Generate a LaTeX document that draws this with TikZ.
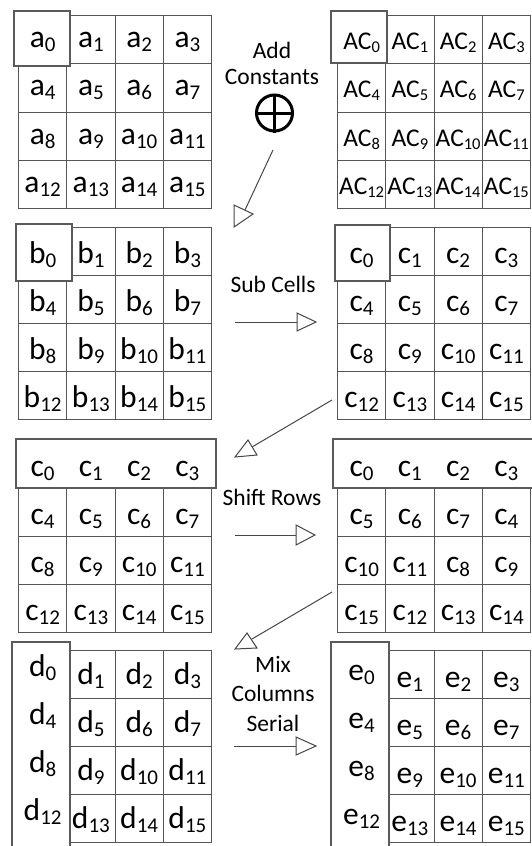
\documentclass[tikz,border=0pt]{standalone}
\usepackage{fontspec}
\setmainfont{Carlito}
\usetikzlibrary{calc}
\definecolor{gridgray}{RGB}{85,85,85}
\definecolor{boxgray}{RGB}{90,90,90}
\definecolor{arrowgray}{RGB}{70,70,70}
\newcommand{\cellsub}[1]{\raisebox{-4pt}{\fontsize{21}{21}\selectfont #1}}
\newcommand{\acsub}[1]{\raisebox{-3pt}{\fontsize{16.5}{16.5}\selectfont #1}}
\newcommand{\bigtxt}[2]{{\fontsize{31.5}{31.5}\selectfont #1\cellsub{#2}}}
\newcommand{\actxt}[1]{{\fontsize{25.5}{25.5}\selectfont AC\acsub{#1}}}
\newcommand{\mkgrid}[5]{%
  \foreach \r in {0,...,3}{\foreach \c in {0,...,3}{%
    \pgfmathtruncatemacro{\k}{4*\r+\c}%
    \node[gridcell, minimum width=#4pt, minimum height=#5pt] (#1-\k) at ({#2+\c*#4},{#3+\r*#5}) {};}}}
\begin{document}
\begin{tikzpicture}[x=1pt,y=-1pt,
  gridcell/.style={draw=gridgray, line width=1pt, inner sep=0pt, anchor=north west},
  hlbox/.style={draw=boxgray, line width=1.2pt, fill=white, inner sep=0pt},
  ctext/.style={inner sep=0pt, anchor=base},
  lbl/.style={inner sep=0pt, font=\fontsize{23.5}{26}\selectfont, align=center},
  conn/.style={draw=arrowgray, line width=1pt},
  tri/.style={draw=arrowgray, line width=1pt, fill=white, line join=miter},
]
\useasboundingbox (0,0) rectangle (532,846);

% grids
\mkgrid{a}{18}{15}{48.25}{48.25}
\mkgrid{ac}{337}{15}{48.25}{48.25}
\mkgrid{b}{18}{227}{48.25}{48}
\mkgrid{c}{337}{227}{48.25}{48}
\mkgrid{s}{18}{440}{48.25}{48}
\mkgrid{t}{337}{440}{48.25}{48}
\mkgrid{d}{18}{650}{48.25}{48}
\mkgrid{e}{337}{650}{48.25}{48}

% highlight boxes
\node[hlbox, minimum width=56pt, minimum height=55pt] (a-hl) at (42,38.5) {};
\node[hlbox, minimum width=56pt, minimum height=52pt] (ac-hl) at (359,37) {};
\node[hlbox, minimum width=56pt, minimum height=57pt] (b-hl) at (44,252.5) {};
\node[hlbox, minimum width=55pt, minimum height=56pt] (c-hl) at (362.5,253) {};
\node[hlbox, minimum width=200pt, minimum height=49pt] (s-hl) at (116,463.5) {};
\node[hlbox, minimum width=207pt, minimum height=49pt] (t-hl) at (436.5,463.5) {};
\node[hlbox, minimum width=58pt, minimum height=208pt] (d-hl) at (41,746) {};
\node[hlbox, minimum width=58pt, minimum height=208pt] (e-hl) at (360,746) {};

% cell texts
\foreach \k in {0,...,15}{
  \node[ctext] (a-\k-t) at ($(a-\k.center)+(0,8)$) {\bigtxt{a}{\k}};
  \node[ctext] (ac-\k-t) at ($(ac-\k.center)+(0,10)$) {\actxt{\k}};
  \node[ctext] (b-\k-t) at ($(b-\k.center)+(0,12)$) {\bigtxt{b}{\k}};
  \node[ctext] (c-\k-t) at ($(c-\k.center)+(0,12)$) {\bigtxt{c}{\k}};
  \node[ctext] (s-\k-t) at ($(s-\k.center)+(0,12)$) {\bigtxt{c}{\k}};
}
\foreach \k/\v in {0/0,1/1,2/2,3/3,4/5,5/6,6/7,7/4,8/10,9/11,10/8,11/9,12/15,13/12,14/13,15/14}{
  \node[ctext] (t-\k-t) at ($(t-\k.center)+(0,12)$) {\bigtxt{c}{\v}};
}
\foreach \k in {0,4,8,12}{
  \node[ctext] (d-\k-t) at ($(d-\k.center)+(0,2)$) {\bigtxt{d}{\k}};
  \node[ctext] (e-\k-t) at ($(e-\k.center)+(0,6)$) {\bigtxt{e}{\k}};
}
\foreach \k in {1,2,3,5,6,7,9,10,11,13,14,15}{
  \node[ctext] (d-\k-t) at ($(d-\k.center)+(0,10)$) {\bigtxt{d}{\k}};
  \node[ctext] (e-\k-t) at ($(e-\k.center)+(0,13)$) {\bigtxt{e}{\k}};
}

% labels
\node[lbl, anchor=north] (addlbl) at (272,42) {Add\\Constants};
\node[lbl, anchor=base] (sublbl) at (273,292) {Sub Cells};
\node[lbl, anchor=base] (shiftlbl) at (272,505) {Shift Rows};
\node[lbl, anchor=north, font=\fontsize{23.5}{29.5}\selectfont] (mixlbl) at (273,656) {Mix\\Columns\\Serial};

% xor symbol
\node[circle, draw=black, line width=3pt, minimum size=36pt, inner sep=0pt] (xor) at (274.5,113) {};
\draw[line width=3pt] (xor.north) -- (xor.south) (xor.west) -- (xor.east);

% connectors
\coordinate (ar1s) at (273,150); \coordinate (ar1e) at (245,210);
\draw[conn] (ar1s) -- (ar1e);
\draw[tri] (234,205) -- (253,214) -- (234,227) -- cycle;

\coordinate (ar2s) at (235,322); \coordinate (ar2e) at (297,322);
\draw[conn] (ar2s) -- (ar2e);
\draw[tri] (297,313) -- (316,322) -- (297,331) -- cycle;

\coordinate (ar3s) at (332,400); \coordinate (ar3e) at (252,447);
\draw[conn] (ar3s) -- (ar3e);
\draw[tri] (235,457) -- (248,440) -- (257,455) -- cycle;

\coordinate (ar4s) at (235,535); \coordinate (ar4e) at (296,535);
\draw[conn] (ar4s) -- (ar4e);
\draw[tri] (296,525) -- (315,535) -- (296,545) -- cycle;

\coordinate (ar5s) at (332,592); \coordinate (ar5e) at (252,639);
\draw[conn] (ar5s) -- (ar5e);
\draw[tri] (235,649) -- (247,633) -- (257,648) -- cycle;

\coordinate (ar6s) at (234,746); \coordinate (ar6e) at (296,746);
\draw[conn] (ar6s) -- (ar6e);
\draw[tri] (296,737) -- (316,746) -- (296,755) -- cycle;
\end{tikzpicture}
\end{document}
